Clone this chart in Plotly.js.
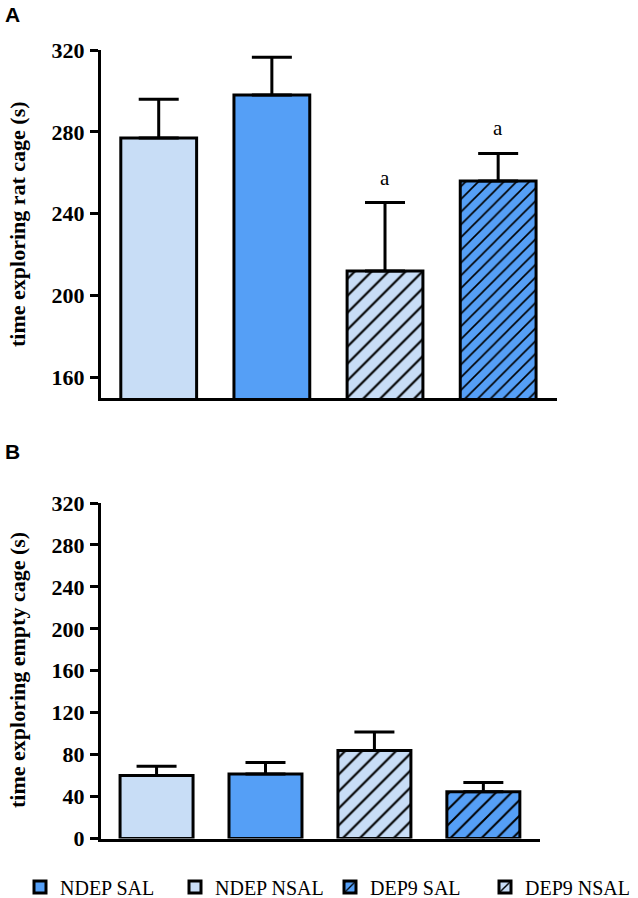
<!DOCTYPE html>
<html>
<head>
<meta charset="utf-8">
<script src="https://cdn.plot.ly/plotly-3.0.1.min.js"></script>
<style>html,body{margin:0;padding:0;background:#fff;}#chart{width:638px;height:898px;}</style>
</head>
<body>
<div id="chart"></div>
<script>
// ---- data ----
const groups = ['NDEP NSAL', 'NDEP SAL', 'DEP9 NSAL', 'DEP9 SAL'];   // bar order on the x axis
const legendOrder = ['NDEP SAL', 'NDEP NSAL', 'DEP9 SAL', 'DEP9 NSAL'];
const ratCageMean = [277, 298, 212, 256];
const ratCageSEM = [19, 18.5, 33.5, 13.5];
const emptyCageMean = [60, 61.5, 84, 44.5];
const emptyCageSEM = [9, 11, 17.5, 9];
const sigLabels = ['', '', 'a', 'a'];
const ratTicks = [160, 200, 240, 280, 320];
const emptyTicks = [0, 40, 80, 120, 160, 200, 240, 280, 320];

// ---- styles ----
const LIGHT = '#c8ddf6';
const MED = '#559ff6';
const style = {
  'NDEP SAL':  {color: MED, hatch: false},
  'NDEP NSAL': {color: LIGHT, hatch: false},
  'DEP9 SAL':  {color: MED, hatch: true},
  'DEP9 NSAL': {color: LIGHT, hatch: true}
};
const serif = 'Liberation Serif, Times New Roman, serif';
const sans = 'Liberation Sans, Arial, sans-serif';

const traces = [];
function addPanel(means, sems, xa, ya, showLegend, hatchSizeMed) {
  legendOrder.forEach(function (g) {
    const i = groups.indexOf(g);
    const st = style[g];
    const marker = {color: st.color, line: {color: 'black', width: 3}};
    if (st.hatch) {
      marker.pattern = {shape: '/', fgcolor: 'black', bgcolor: st.color,
        size: st.color === MED ? hatchSizeMed : 12, solidity: 0.18};
    }
    traces.push({
      type: 'bar', name: g, x: [g], y: [means[i]], xaxis: xa, yaxis: ya,
      width: 0.67, marker: marker, showlegend: showLegend, legendgroup: g,
      error_y: {type: 'data', array: [sems[i]], arrayminus: [0], symmetric: false,
        color: 'black', thickness: 3, width: 20},
      hoverinfo: 'skip'
    });
  });
}
addPanel(ratCageMean, ratCageSEM, 'x', 'y', true, 9);
addPanel(emptyCageMean, emptyCageSEM, 'x2', 'y2', false, 11);

const annotations = [];
groups.forEach(function (g, i) {
  if (sigLabels[i]) {
    annotations.push({x: g, y: ratCageMean[i] + ratCageSEM[i], xref: 'x', yref: 'y',
      text: sigLabels[i], showarrow: false, yanchor: 'bottom', yshift: 11,
      font: {family: serif, size: 21, color: 'black'}});
  }
});
function px(x, y) { return {x: x / 638, y: 1 - y / 898}; }
const letterFont = {family: sans, size: 21, weight: 'bold', color: 'black'};
const titleFont = {family: serif, size: 22, weight: 'bold', color: 'black'};
annotations.push(Object.assign({text: 'A', xref: 'paper', yref: 'paper', showarrow: false,
  xanchor: 'left', yanchor: 'top', font: letterFont}, px(3, 1)));
annotations.push(Object.assign({text: 'B', xref: 'paper', yref: 'paper', showarrow: false,
  xanchor: 'left', yanchor: 'top', font: letterFont}, px(3, 438)));
annotations.push(Object.assign({text: 'time exploring rat cage (s)', textangle: -90,
  xref: 'paper', yref: 'paper', showarrow: false, xanchor: 'center', yanchor: 'middle',
  font: titleFont}, px(17, 224)));
annotations.push(Object.assign({text: 'time exploring empty cage (s)', textangle: -90,
  xref: 'paper', yref: 'paper', showarrow: false, xanchor: 'center', yanchor: 'middle',
  font: titleFont}, px(17, 670)));

const xCommon = {type: 'category', categoryorder: 'array', categoryarray: groups,
  range: [-0.51, 3.52], showticklabels: false, ticks: '', showline: true, linecolor: 'black',
  linewidth: 3, showgrid: false, zeroline: false, fixedrange: true};
const yCommon = {ticks: 'outside', ticklen: 8, tickwidth: 3, tickcolor: 'black',
  showline: true, linecolor: 'black', linewidth: 3, showgrid: false, zeroline: false,
  tickmode: 'array', tickfont: {family: serif, size: 22, weight: 'bold', color: 'black'},
  ticklabelstandoff: 1};

const layout = {
  width: 638, height: 898,
  margin: {l: 0, r: 0, t: 0, b: 0, autoexpand: false},
  paper_bgcolor: 'white', plot_bgcolor: 'white',
  barmode: 'overlay',
  showlegend: true,
  xaxis: Object.assign({}, xCommon, {domain: [101 / 638, 557 / 638], anchor: 'y'}),
  yaxis: Object.assign({}, yCommon, {domain: [1 - 398 / 898, 1 - 50 / 898], range: [150, 320],
    tickvals: ratTicks, anchor: 'x'}),
  xaxis2: Object.assign({}, xCommon, {domain: [101 / 638, 540 / 638], anchor: 'y2'}),
  yaxis2: Object.assign({}, yCommon, {domain: [1 - 838.5 / 898, 1 - 503 / 898], range: [0, 320],
    tickvals: emptyTicks, anchor: 'x2'}),
  legend: {orientation: 'h', x: 20 / 638, xanchor: 'left', y: 1 - 887 / 898, yanchor: 'middle',
    traceorder: 'normal', font: {family: serif, size: 20, color: 'black'},
    itemwidth: 30, entrywidth: 110, entrywidthmode: 'pixels', bgcolor: 'rgba(0,0,0,0)'},
  annotations: annotations
};

Plotly.newPlot('chart', traces, layout, {displayModeBar: false, staticPlot: true});
</script>
</body>
</html>
